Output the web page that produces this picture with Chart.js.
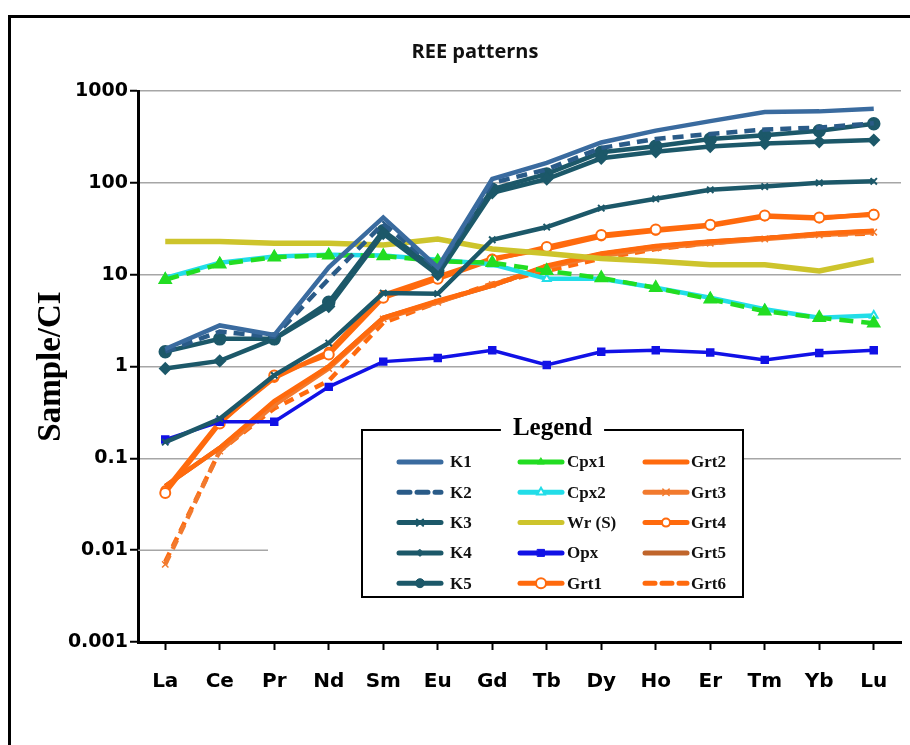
<!DOCTYPE html>
<html>
<head>
<meta charset="utf-8">
<title>REE patterns</title>
<script src="https://cdn.jsdelivr.net/npm/chart.js@4.4.1/dist/chart.umd.min.js"></script>
<style>
  html, body { margin: 0; padding: 0; background: #fff; }
  #page { position: relative; width: 910px; height: 745px; overflow: hidden; }
  #frame { position: absolute; left: 8px; top: 15px; width: 940px; height: 780px; border: 3px solid #000; box-sizing: border-box; }
  #wrap { position: absolute; left: 0; top: 0; width: 910px; height: 745px; }
</style>
</head>
<body>
<div id="page">
  <div id="frame"></div>
  <div id="wrap"><canvas id="chartREE"></canvas></div>
</div>
<script>
// elementos (eixo x) e ticks do eixo y
const elementos = ['La', 'Ce', 'Pr', 'Nd', 'Sm', 'Eu', 'Gd', 'Tb', 'Dy', 'Ho', 'Er', 'Tm', 'Yb', 'Lu'];
const tickValues = [0.001, 0.01, 0.1, 1, 10, 100, 1000];
const tickLabels = ['0.001', '0.01', '0.1', '1', '10', '100', '1000'];

// valores normalizados (Sample/CI)
const k1 = [1.55, 2.8, 2.2, 12, 42, 12, 110, 165, 275, 370, 470, 590, 600, 640];
const k2 = [1.45, 2.4, 2.1, 9, 36, 11.5, 100, 140, 240, 300, 340, 380, 400, 445];
const k3 = [0.15, 0.27, 0.8, 1.8, 6.3, 6.2, 24, 33, 53, 67, 84, 91, 100, 104];
const k4 = [0.95, 1.15, 2.0, 4.5, 28, 10, 78, 110, 185, 218, 248, 268, 280, 292];
const k5 = [1.45, 2.0, 2.0, 5, 30, 11, 85, 125, 215, 250, 300, 330, 370, 440];
const cpx1 = [8.8, 13, 15.5, 16.3, 16, 14, 13.5, 11, 9.2, 7.2, 5.4, 4.0, 3.4, 2.95];
const cpx2 = [9.2, 13.5, 15.8, 16.5, 16.2, 14.5, 13, 9, 9, 7.2, 5.6, 4.2, 3.4, 3.6];
const wr = [23, 23, 22, 22, 21, 24.5, 19, 17, 15, 14, 12.8, 12.8, 11, 14.5];
const opx = [0.16, 0.25, 0.25, 0.6, 1.13, 1.24, 1.5, 1.04, 1.45, 1.5, 1.42, 1.18, 1.4, 1.5];
const grt1 = [0.042, 0.24, 0.8, 1.35, 5.6, 9, 14.5, 20, 27, 31, 35, 44, 42, 45];
const grt2 = [0.05, 0.13, 0.42, 1.0, 3.4, 5.2, 7.6, 12.5, 17, 20.5, 23, 25, 28, 30];
const grt3 = [0.007, 0.12, 0.38, 0.95, 3.3, 5.0, 7.8, 12, 16, 19.5, 22, 24.5, 27, 29];
const grt4 = [0.045, 0.25, 0.75, 1.45, 6, 9.5, 15, 19, 26, 30, 34, 43, 41, 46];
const grt5 = [0.05, 0.13, 0.4, 1.0, 3.4, 5.1, 7.6, 12.3, 16.8, 20.3, 22.8, 25, 27.8, 29.8];
const grt6 = [0.0075, 0.12, 0.35, 0.7, 3.0, 5.0, 8, 11, 15, 19, 22, 25, 27, 28];

const teal = '#1c5869';
const laranja = '#ff6a0d';

function serie(label, data, color, extra) {
    return Object.assign({
        label: label,
        data: data,
        borderColor: color,
        backgroundColor: color,
        borderWidth: 4.5,
        pointRadius: 0,
        pointHoverRadius: 0,
        tension: 0,
        fill: false
    }, extra || {});
}

// desenha o marcador na amostra da legenda
function desenhaMarcador(ctx, ds, x, y) {
    const r = ds.pointRadius;
    ctx.save();
    ctx.fillStyle = ds.pointBackgroundColor || ds.borderColor;
    ctx.strokeStyle = ds.pointBorderColor || ds.borderColor;
    ctx.lineWidth = ds.pointBorderWidth || 1;
    ctx.setLineDash([]);
    ctx.beginPath();
    const estilo = ds.pointStyle || 'circle';
    if (estilo === 'circle') {
        ctx.arc(x, y, r, 0, Math.PI * 2);
        ctx.fill(); ctx.stroke();
    } else if (estilo === 'rect') {
        ctx.rect(x - r, y - r, 2 * r, 2 * r);
        ctx.fill(); ctx.stroke();
    } else if (estilo === 'rectRot') {
        ctx.moveTo(x, y - r); ctx.lineTo(x + r, y); ctx.lineTo(x, y + r); ctx.lineTo(x - r, y); ctx.closePath();
        ctx.fill(); ctx.stroke();
    } else if (estilo === 'triangle') {
        ctx.moveTo(x, y - r); ctx.lineTo(x + r * 0.87, y + r * 0.5); ctx.lineTo(x - r * 0.87, y + r * 0.5); ctx.closePath();
        ctx.fill(); ctx.stroke();
    } else if (estilo === 'crossRot') {
        const d = r * 0.7;
        ctx.moveTo(x - d, y - d); ctx.lineTo(x + d, y + d);
        ctx.moveTo(x + d, y - d); ctx.lineTo(x - d, y + d);
        ctx.stroke();
    }
    ctx.restore();
}

// título desenhado à mão para ficar na mesma posição do original
const tituloPlugin = {
    id: 'tituloPlugin',
    afterDraw(chart, args, opts) {
        const ctx = chart.ctx;
        ctx.save();
        ctx.fillStyle = '#111';
        ctx.font = 'bold 20px "Open Sans"';
        ctx.textAlign = 'center';
        ctx.textBaseline = 'middle';
        ctx.fillText(opts.text, opts.x, opts.y);
        ctx.restore();
    }
};

const legendaBox = {
    id: 'legendaBox',
    afterDatasetsDraw(chart, args, opts) {
        const ctx = chart.ctx;
        const b = opts.box;
        ctx.save();
        ctx.fillStyle = '#fff';
        ctx.fillRect(b.x, b.y, b.w, b.h);
        ctx.font = 'bold 25px "Liberation Serif"';
        const tw = ctx.measureText(opts.title).width;
        const cx = b.x + b.w / 2;
        ctx.strokeStyle = '#000';
        ctx.lineWidth = 2;
        ctx.beginPath();
        ctx.moveTo(cx - tw / 2 - 12, b.y);
        ctx.lineTo(b.x, b.y);
        ctx.lineTo(b.x, b.y + b.h);
        ctx.lineTo(b.x + b.w, b.y + b.h);
        ctx.lineTo(b.x + b.w, b.y);
        ctx.lineTo(cx + tw / 2 + 12, b.y);
        ctx.stroke();
        ctx.fillStyle = '#000';
        ctx.textAlign = 'center';
        ctx.textBaseline = 'middle';
        ctx.fillText(opts.title, cx, b.y - 1);

        chart.data.datasets.forEach(function(ds, i) {
            const col = Math.floor(i / 5);
            const row = i % 5;
            const sx = b.x + opts.colX[col];
            const sy = b.y + opts.rowY0 + row * opts.rowGap;
            ctx.strokeStyle = ds.borderColor;
            ctx.lineWidth = 5;
            ctx.lineCap = 'round';
            ctx.setLineDash(ds.amostraSolida ? [] : (ds.borderDash || []));
            ctx.beginPath();
            ctx.moveTo(sx, sy);
            ctx.lineTo(sx + opts.sampleW, sy);
            ctx.stroke();
            ctx.setLineDash([]);
            if (ds.pointRadius > 0) desenhaMarcador(ctx, ds, sx + opts.sampleW / 2, sy);
            ctx.fillStyle = '#111';
            ctx.textAlign = 'left';
            ctx.textBaseline = 'middle';
            ctx.font = 'bold 17px "Liberation Serif"';
            ctx.fillText(ds.label, sx + opts.sampleW + opts.textGap[col], sy + 1);
        });
        ctx.restore();
    }
};

// linha de grade de 0.01 só no trecho inicial, como no original
const gradeParcial = {
    id: 'gradeParcial',
    beforeDatasetsDraw(chart) {
        const ctx = chart.ctx;
        const y = chart.scales.y.getPixelForValue(0.01);
        const left = chart.chartArea.left;
        ctx.save();
        ctx.strokeStyle = '#a6a6a6';
        ctx.lineWidth = 1.5;
        ctx.beginPath();
        ctx.moveTo(left, y);
        ctx.lineTo(left + 130, y);
        ctx.stroke();
        ctx.restore();
    }
};

document.addEventListener('DOMContentLoaded', function() {
    const ctx = document.getElementById('chartREE');

    const datasets = [
        serie('K1', k1, '#3a6b9f'),
        serie('K2', k2, '#2a5b88', { borderDash: [11, 7] }),
        serie('K3', k3, teal, { pointStyle: 'crossRot', pointRadius: 4.5, pointBorderWidth: 2 }),
        serie('K4', k4, teal, { pointStyle: 'rectRot', pointRadius: 3.5 }),
        serie('K5', k5, teal, { pointStyle: 'circle', pointRadius: 4.5 }),
        serie('Cpx1', cpx1, '#22dd22', { borderDash: [14, 8], pointStyle: 'triangle', pointRadius: 4, amostraSolida: true }),
        serie('Cpx2', cpx2, '#22dde8', { pointStyle: 'triangle', pointRadius: 4.5, pointBackgroundColor: '#ffffff', pointBorderWidth: 2 }),
        serie('Wr (S)', wr, '#cdc42c', { borderWidth: 5.5 }),
        serie('Opx', opx, '#1111e6', { borderWidth: 3.5, pointStyle: 'rect', pointRadius: 3.5 }),
        serie('Grt1', grt1, laranja, { pointStyle: 'circle', pointRadius: 5, pointBackgroundColor: '#ffffff', pointBorderWidth: 2 }),
        serie('Grt2', grt2, laranja),
        serie('Grt3', grt3, '#f27a2e', { pointStyle: 'crossRot', pointRadius: 4.5, pointBorderWidth: 1.5,
            segment: { borderDash: c => c.p0DataIndex === 0 ? [10, 7] : undefined } }),
        serie('Grt4', grt4, laranja, { pointStyle: 'circle', pointRadius: 4, pointBackgroundColor: '#ffffff', pointBorderWidth: 2 }),
        serie('Grt5', grt5, '#c0652b'),
        serie('Grt6', grt6, laranja, { borderDash: [10, 7] })
    ];

    new Chart(ctx, {
        type: 'line',
        data: {
            labels: elementos,
            datasets: datasets
        },
        options: {
            responsive: true,
            maintainAspectRatio: false,
            animation: false,
            layout: { padding: { left: 0, right: 6, top: 91, bottom: 0 } },
            plugins: {
                legend: { display: false },
                tooltip: { enabled: false },
                title: { display: false },
                tituloPlugin: { text: 'REE patterns', x: 475, y: 52 },
                legendaBox: {
                    title: 'Legend',
                    box: { x: 362, y: 430, w: 381, h: 167 },
                    rowY0: 32,
                    rowGap: 30.3,
                    colX: [37, 158, 283],
                    sampleW: 42,
                    textGap: [9, 5, 4]
                }
            },
            scales: {
                x: {
                    offset: true,
                    grid: { offset: false, drawOnChartArea: false, drawTicks: true, tickLength: 8, tickColor: '#000', tickWidth: 2 },
                    border: { color: '#000', width: 3 },
                    ticks: {
                        color: '#000',
                        font: { family: 'DejaVu Sans', size: 20, weight: 'bold' },
                        padding: 20,
                        maxRotation: 0,
                        autoSkip: false
                    },
                    afterFit: function(scale) { scale.height = 103; }
                },
                y: {
                    type: 'logarithmic',
                    min: 0.001,
                    max: 1000,
                    afterBuildTicks: function(scale) {
                        scale.ticks = tickValues.map(v => ({ value: v }));
                    },
                    grid: {
                        color: c => (c.tick && c.tick.value === 0.01) ? 'rgba(0,0,0,0)' : '#a6a6a6',
                        lineWidth: 1.5,
                        tickLength: 8,
                        tickColor: '#000',
                        tickWidth: 2
                    },
                    border: { color: '#000', width: 3 },
                    ticks: {
                        color: '#000',
                        font: { family: 'DejaVu Sans', size: 19, weight: 'bold' },
                        padding: 2,
                        callback: function(value) {
                            const i = tickValues.indexOf(value);
                            return i >= 0 ? tickLabels[i] : '';
                        }
                    },
                    title: {
                        display: true,
                        text: 'Sample/CI',
                        color: '#000',
                        font: { family: 'Liberation Serif', size: 33, weight: 'bold' },
                        padding: { top: 32, bottom: 0 }
                    },
                    afterFit: function(scale) { scale.width = 138; }
                }
            }
        },
        plugins: [legendaBox, gradeParcial, tituloPlugin]
    });
});
</script>
</body>
</html>
